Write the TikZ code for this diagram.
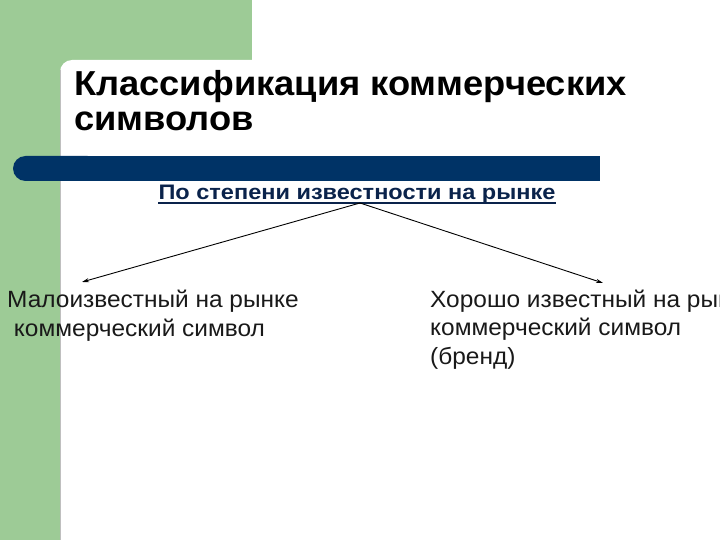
\documentclass[tikz,border=0pt]{standalone}
\usepackage{graphicx}
\usepackage{fontspec}
\setmainfont{Liberation Sans}
\newfontfamily\titlefont[FakeStretch=1.1]{Liberation Sans Bold}
\newfontfamily\subfont[FakeStretch=1.12]{Liberation Sans Bold}
\newfontfamily\bodyfont[FakeStretch=1.04]{Liberation Sans}
\usetikzlibrary{arrows.meta}
\definecolor{bandgreen}{RGB}{157,203,150}
\definecolor{navy}{RGB}{0,51,102}
\definecolor{subnavy}{RGB}{10,35,75}
\definecolor{bodytext}{RGB}{25,25,25}
\tikzset{
  titletext/.style={anchor=base west, inner sep=0pt, font=\titlefont\fontsize{33}{33}\selectfont, text=black},
  subtext/.style={anchor=base, inner sep=0pt, font=\subfont\fontsize{21}{24}\selectfont, text=subnavy},
  bodynode/.style={anchor=base west, inner sep=0pt, align=left, font=\bodyfont\fontsize{23.5}{28.5}\selectfont, text=bodytext},
  conn/.style={-{Stealth[length=7pt,width=4pt]}, line width=0.9pt, black}
}
\begin{document}
\begin{tikzpicture}[x=1pt,y=-1pt]
\useasboundingbox (0,0) rectangle (720,540);
% background bands
\fill[bandgreen] (0,0) rectangle (252,72);
\fill[bandgreen] (0,0) rectangle (60,540);
\fill[white, rounded corners=12pt] (60,60) rectangle (400,400);
\fill[white] (60,100) rectangle (720,540);
\draw[black!25, line width=0.6pt] (60.5,70) -- (60.5,540);
% navy bar
\fill[navy, rounded corners=12.5pt] (13,156) rectangle (100,181);
\fill[navy] (50,156) rectangle (600,181);
% title
\node[titletext] (t1) at (74,96) {\scalebox{1}[1.05]{Классификация коммерческих}};
\node[titletext] (t2) at (74,131) {\scalebox{1}[1.05]{символов}};
% subtitle
\node[subtext] (sub) at (357,200) {По степени известности на рынке};
\draw[subnavy, line width=1.2pt] ([yshift=-3pt]sub.base west) -- ([yshift=-3pt]sub.base east);
% body
\node[bodynode] (left) at (7,336) {Малоизвестный на рынке\\\ коммерческий символ};
\node[bodynode] (right) at (430,364) {Хорошо известный на рынке\\коммерческий символ\\(бренд)};
% connectors
\coordinate (apex) at (360,203);
\coordinate (ltip) at (82,282);
\coordinate (rtip) at (603,283);
\draw[conn] (apex) -- (ltip);
\draw[conn] (apex) -- (rtip);
\end{tikzpicture}
\end{document}
